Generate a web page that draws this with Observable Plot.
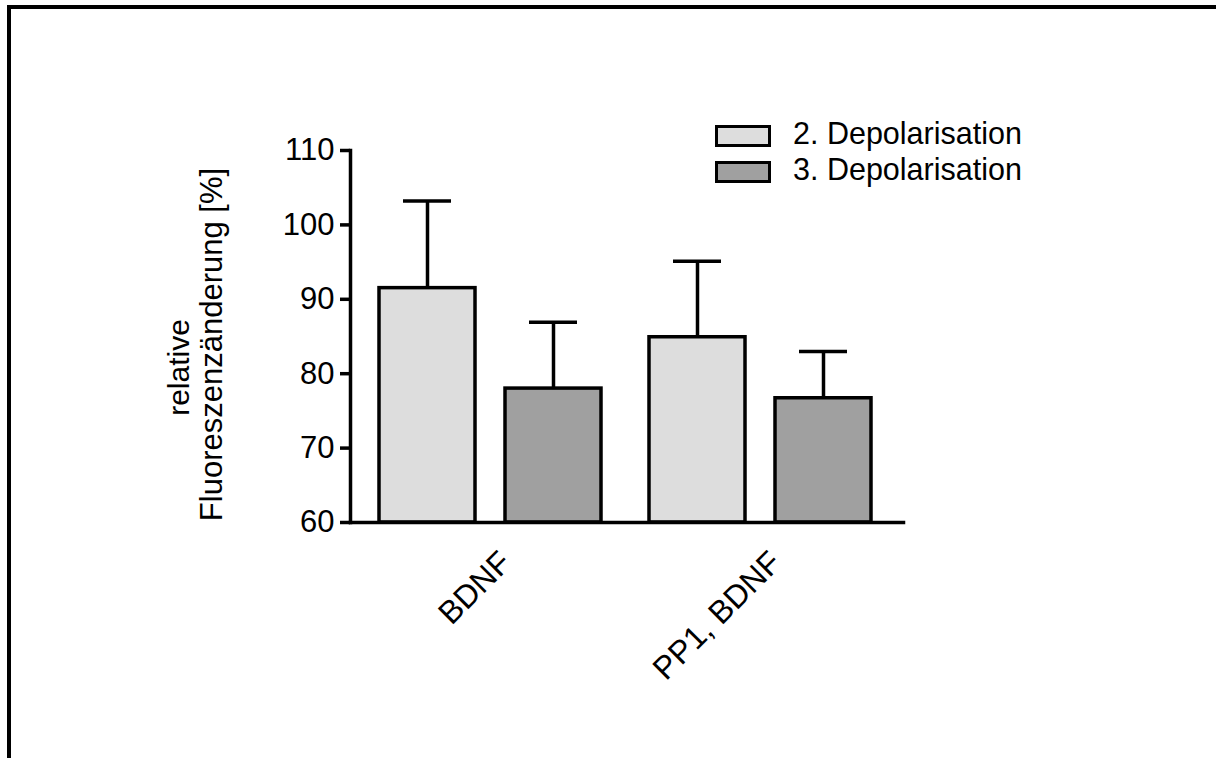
<!DOCTYPE html>
<html>
<head>
<meta charset="utf-8">
<script src="https://cdn.jsdelivr.net/npm/d3@7"></script>
<script src="https://cdn.jsdelivr.net/npm/@observablehq/plot@0.6"></script>
<style>
  html, body { margin: 0; padding: 0; background: #fff; }
  #wrap { position: relative; width: 1216px; height: 758px; overflow: hidden; font-family: "Liberation Sans", Arial, Helvetica, sans-serif; }
  #border { position: absolute; left: 7px; top: 5px; right: -10px; bottom: -10px; border-top: 4px solid #000; border-left: 4px solid #000; }
  #chart { position: absolute; left: 0; top: 0; }
  #legend { position: absolute; left: 715px; top: 125px; font-size: 30.5px; color: #000; }
  .row { display: flex; align-items: center; height: 22px; margin-bottom: 14px; }
  .sw { width: 56px; height: 22px; box-sizing: border-box; border: 3px solid #000; }
  .lab { margin-left: 22px; line-height: 22px; position: relative; top: -3px; white-space: nowrap; }
</style>
</head>
<body>
<div id="wrap">
  <div id="border"></div>
  <div id="chart"></div>
  <div id="legend"></div>
</div>
<script>
// ---- data ----
const groups = ["BDNF", "PP1, BDNF"];
const series = ["2. Depolarisation", "3. Depolarisation"];
const meansSeries2 = [91.5, 84.9];   // 2. Depolarisation
const meansSeries3 = [78.0, 76.7];   // 3. Depolarisation
const errSeries2 = [11.7, 10.2];
const errSeries3 = [8.9, 6.3];
const yTicks = [60, 70, 80, 90, 100, 110];
const yLabelLine1 = "relative";
const yLabelLine2 = "Fluoreszenzänderung [%]";
const fills = ["#dddddd", "#a0a0a0"];
const baseline = 60;

const data = groups.flatMap((g, i) => [
  {group: g, series: series[0], mean: meansSeries2[i], err: errSeries2[i]},
  {group: g, series: series[1], mean: meansSeries3[i], err: errSeries3[i]}
]);

const font = "'Liberation Sans', Arial, Helvetica, sans-serif";

const chart = Plot.plot({
  width: 1216,
  height: 758,
  marginLeft: 378,
  marginRight: 343,
  marginTop: 150,
  marginBottom: 236,
  style: {fontFamily: font, fontSize: "30px", color: "#000", background: "transparent", overflow: "visible"},
  fx: {domain: groups, paddingInner: 0.173, paddingOuter: 0, axis: null, label: null},
  x: {domain: series, paddingInner: 0.236, paddingOuter: 0, axis: null, label: null},
  y: {domain: [60, 110], axis: null},
  color: {domain: series, range: fills},
  marks: [
    Plot.barY(data, {fx: "group", x: "series", y1: baseline, y2: "mean", fill: "series", stroke: "#000", strokeWidth: 3.5}),
    Plot.ruleX(data, {fx: "group", x: "series", y1: "mean", y2: d => d.mean + d.err, stroke: "#000", strokeWidth: 3.5}),
    Plot.tickY(data, {fx: "group", x: "series", y: d => d.mean + d.err, insetLeft: 24, insetRight: 24, stroke: "#000", strokeWidth: 3.5}),
    Plot.text(groups, {fx: d => d, text: d => d, frameAnchor: "bottom", dx: 22, dy: 42, rotate: -45, textAnchor: "end", lineAnchor: "bottom", fontSize: 32, fill: "#000"}),
    Plot.axisY({ticks: yTicks, tickSize: 10, tickPadding: 6, strokeWidth: 3.5, fontSize: 31, label: null, dx: -29}),
    Plot.frame({anchor: "left", facet: "super", insetLeft: -29, stroke: "#000", strokeWidth: 3.5}),
    Plot.frame({anchor: "bottom", facet: "super", insetLeft: -29, insetRight: -31, stroke: "#000", strokeWidth: 3.5}),
    Plot.text([yLabelLine1], {text: d => d, frameAnchor: "left", facet: "super", rotate: -90, textAnchor: "middle", dx: -200, dy: 31, fontSize: 30, fill: "#000"}),
    Plot.text([yLabelLine2], {text: d => d, frameAnchor: "left", facet: "super", rotate: -90, textAnchor: "middle", dx: -167, dy: 8, fontSize: 31, fill: "#000"})
  ]
});
document.getElementById("chart").appendChild(chart);

// legend
const legend = document.getElementById("legend");
series.forEach((s, i) => {
  const row = document.createElement("div");
  row.className = "row";
  const sw = document.createElement("div");
  sw.className = "sw";
  sw.style.background = fills[i];
  const lab = document.createElement("span");
  lab.className = "lab";
  lab.textContent = s;
  row.appendChild(sw);
  row.appendChild(lab);
  legend.appendChild(row);
});
</script>
</body>
</html>
